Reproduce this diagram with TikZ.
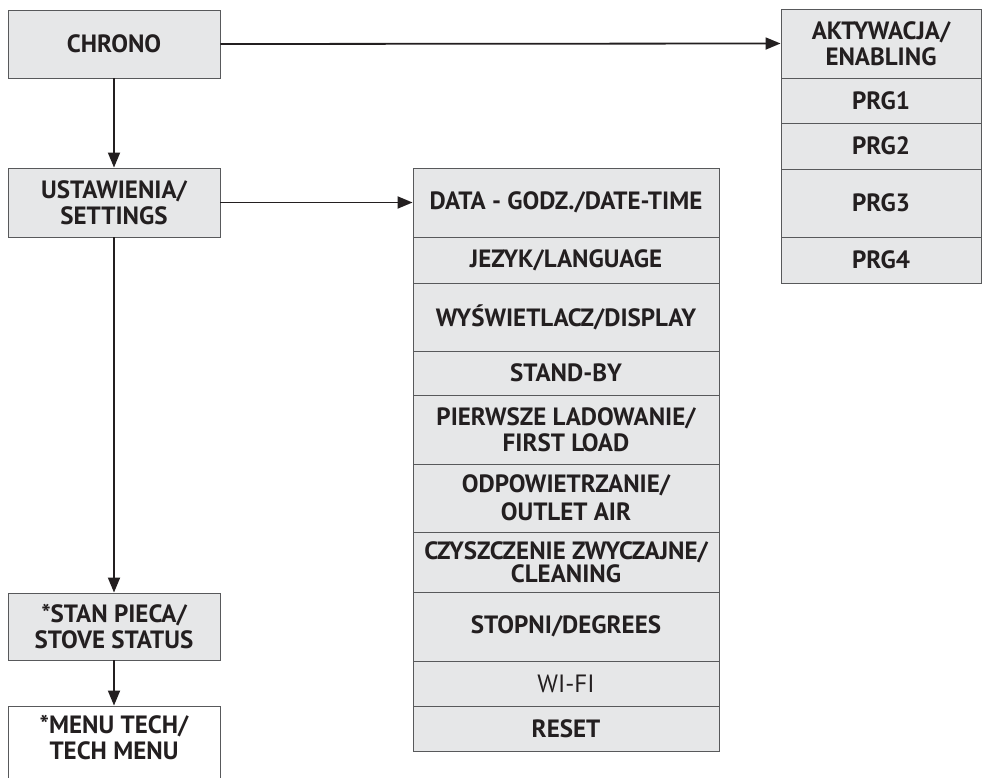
\documentclass[tikz,border=0pt]{standalone}
\usepackage{fontspec}
\setmainfont{PT Sans}
\usetikzlibrary{arrows.meta}
\definecolor{boxfill}{HTML}{E6E7E8}
\definecolor{boxline}{HTML}{58595B}
\definecolor{ink}{HTML}{231F20}
\tikzset{
  box/.style={draw=boxline, line width=0.9pt, fill=boxfill, text=ink,
    font=\fontsize{25}{26}\selectfont\bfseries, align=center, inner sep=0pt},
  arr/.style={draw=ink, line width=1.8pt, -{Triangle[length=15pt,width=12pt]}}
}
\newcommand\bx[7][]{%
  \node[box,#1,minimum width={(#5-#3)*1pt},minimum height={(#6-#4)*1pt}]
    (#2) at ({(#3+#5)/2*1pt},{-(#4+#6)/2*1pt}) {#7};}
\begin{document}
\begin{tikzpicture}
\path[use as bounding box, clip] (0,0) rectangle (983pt,-778pt);
% left column
\bx{chrono}{8}{10}{220}{78}{CHRONO}
\bx{set}{8}{168}{220}{237}{USTAWIENIA/\\SETTINGS}
\bx{stan}{8}{593}{220}{660}{*STAN PIECA/\\STOVE STATUS}
\bx[fill=white]{tech}{8}{706}{220}{820}{}
\node[text=ink, font=\fontsize{25}{26}\selectfont\bfseries, align=center]
  (techtxt) at (114pt,-738pt) {*MENU TECH/\\TECH MENU};
% settings column
\bx{data}{413}{168}{719}{237}{DATA - GODZ./DATE-TIME}
\bx{jez}{413}{237}{719}{283}{JEZYK/LANGUAGE}
\bx{wys}{413}{283}{719}{351}{WYŚWIETLACZ/DISPLAY}
\bx{stand}{413}{351}{719}{395}{STAND-BY}
\bx{pier}{413}{395}{719}{464}{PIERWSZE LADOWANIE/\\FIRST LOAD}
\bx{odp}{413}{464}{719}{532}{ODPOWIETRZANIE/\\[2pt]OUTLET AIR}
\bx{czy}{413}{532}{719}{592}{CZYSZCZENIE ZWYCZAJNE/\\[-3pt]CLEANING}
\bx{sto}{413}{592}{719}{661}{STOPNI/DEGREES}
\bx[font=\fontsize{25}{26}\selectfont]{wifi}{413}{661}{719}{706}{WI-FI}
\bx{reset}{413}{706}{719}{751}{RESET}
% chrono column
\bx{akt}{781}{9}{981}{78}{AKTYWACJA/\\ENABLING}
\bx{prg1}{781}{78}{981}{123}{PRG1}
\bx{prg2}{781}{123}{981}{169}{PRG2}
\bx{prg3}{781}{169}{981}{237}{PRG3}
\bx{prg4}{781}{237}{981}{283}{PRG4}
% connectors
\draw[arr] (chrono.east) -- (akt.west);
\draw[arr] (set.east) -- (data.west);
\draw[arr] (chrono.south) -- (set.north);
\draw[arr] (set.south) -- (stan.north);
\draw[arr] (stan.south) -- (tech.north);
\end{tikzpicture}
\end{document}
